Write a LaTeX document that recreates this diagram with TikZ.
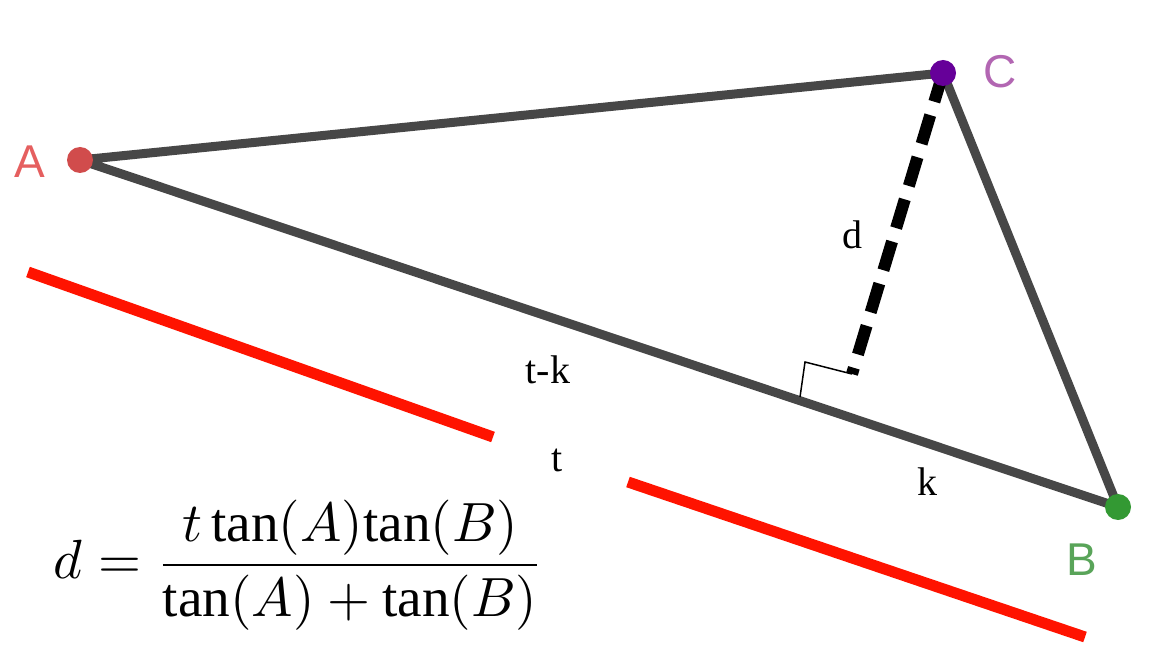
\documentclass[tikz,border=0pt]{standalone}
\usepackage{fontspec}
\usepackage{graphicx}
\setmainfont{Liberation Serif}
\setsansfont{Liberation Sans}
\begin{document}
\begin{tikzpicture}[x=1pt,y=-1pt,
  seg/.style={draw=black!72,line width=9pt,line cap=round,line join=round},
  redl/.style={draw=red!85!orange,line width=11pt},
  lbl/.style={font=\fontsize{40}{46}\selectfont},
  vlbl/.style={font=\sffamily\fontsize{46}{50}\selectfont}]
\useasboundingbox (0,0) rectangle (1170,660);
\coordinate (A) at (80,160);
\coordinate (C) at (943,73);
\coordinate (B) at (1118,507);
\coordinate (F) at (852,374);
\draw[seg] (A) -- (C) -- (B) -- cycle;
\draw[line width=12pt,dash pattern=on 30pt off 14pt] (C) -- (F);
\draw[line width=1.5pt] (800,397) -- (805,362) -- (F);
\fill[red!70!black!60!pink] (A) circle (13);
\fill[violet!80!blue] (C) circle (13);
\fill[green!50!black!80] (B) circle (13);
\draw[redl] (28,272) -- (493,437);
\draw[redl] (628,482) -- (1085,637);
\node[vlbl,text=red!45!pink!90!black] (la) at (30,162) {A};
\node[vlbl,text=violet!60!white] (lc) at (1000,72) {C};
\node[vlbl,text=green!45!black!65] (lb) at (1082,560) {B};
\node[lbl] (ld) at (852,235) {d};
\node[lbl] (ltk) at (548,370) {t-k};
\node[lbl] (lt) at (557,460) {t};
\node[lbl] (lk) at (927,482) {k};
\node (eq) at (299,565) {\resizebox{490pt}{!}{$\displaystyle d=\frac{t\,\mathrm{tan}(A)\mathrm{tan}(B)}{\mathrm{tan}(A)+\mathrm{tan}(B)}$}};
\end{tikzpicture}
\end{document}
